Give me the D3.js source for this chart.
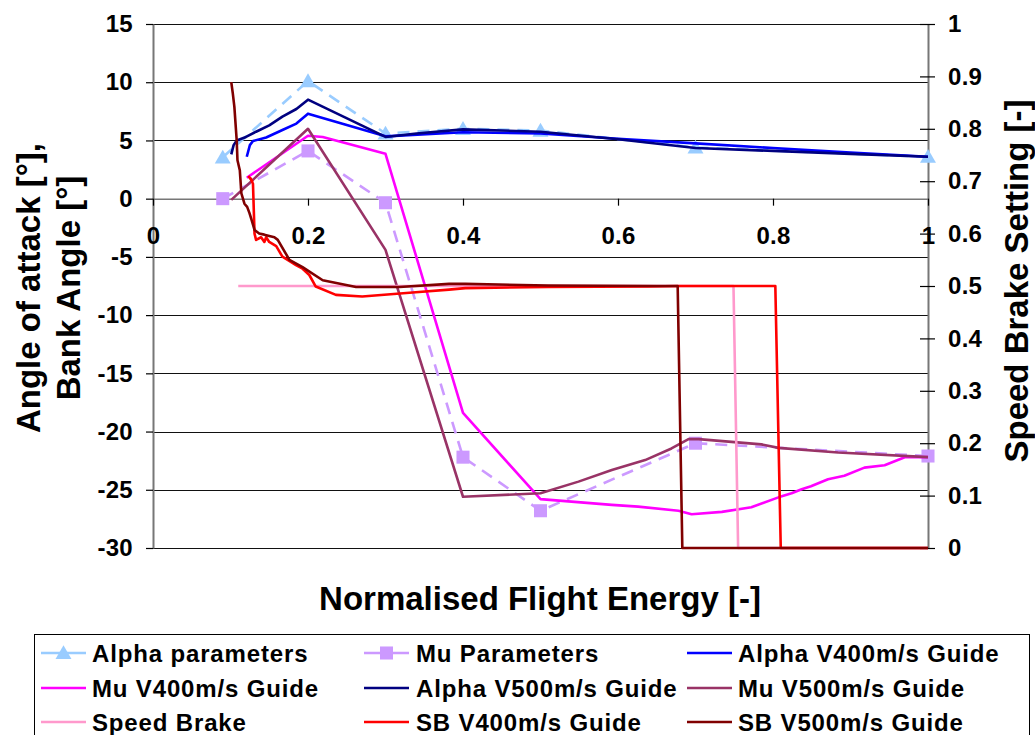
<!DOCTYPE html>
<html>
<head>
<meta charset="utf-8">
<script src="https://cdn.jsdelivr.net/npm/d3@7"></script>
<style>
  body { margin: 0; background: #fff; }
  svg { display: block; font-family: "Liberation Sans", Arial, sans-serif; font-weight: bold; }
</style>
</head>
<body>
<svg id="chart" width="1035" height="735"></svg>
<script>
// ---- Data -------------------------------------------------------------
const xTicks = [0, 0.2, 0.4, 0.6, 0.8, 1];
const leftTicks = [15, 10, 5, 0, -5, -10, -15, -20, -25, -30];
const rightTicks = [0, 0.1, 0.2, 0.3, 0.4, 0.5, 0.6, 0.7, 0.8, 0.9, 1];

// [normalised energy, angle in degrees]
const alphaParams = [[0.09, 3.55], [0.2, 10.1], [0.3, 5.6], [0.4, 6.0], [0.5, 5.85], [0.7, 4.4], [1.0, 3.6]];
const muParams = [[0.09, 0], [0.2, 4.1], [0.3, -0.35], [0.4, -22.2], [0.5, -26.8], [0.7, -21.0], [1.0, -22.1]];

const alphaV400 = [[0.121, 3.6], [0.125, 4.6], [0.129, 4.95], [0.146, 5.25], [0.167, 5.9], [0.185, 6.45],
  [0.2, 7.3], [0.3, 5.35], [0.4, 5.7], [0.5, 5.6], [0.6, 5.15], [0.7, 4.75], [0.8, 4.35], [0.9, 3.95], [1.0, 3.6]];
const muV400 = [[0.121, 1.8], [0.2, 5.4], [0.219, 5.3], [0.3, 3.85], [0.4, -18.4], [0.5, -25.8], [0.592, -26.3],
  [0.626, -26.45], [0.678, -26.8], [0.695, -27.1], [0.734, -26.9], [0.772, -26.5], [0.807, -25.65], [0.824, -25.3],
  [0.837, -24.95], [0.849, -24.7], [0.871, -24.1], [0.892, -23.8], [0.918, -23.1], [0.944, -22.9], [0.970, -22.2],
  [1.0, -22.2]];
const alphaV500 = [[0.101, 3.8], [0.104, 4.6], [0.108, 5.0], [0.12, 5.3], [0.133, 5.75], [0.15, 6.3], [0.167, 7.05],
  [0.185, 7.7], [0.2, 8.5], [0.3, 5.3], [0.34, 5.6], [0.4, 5.95], [0.5, 5.75], [0.6, 5.1], [0.7, 4.35],
  [0.8, 4.1], [0.9, 3.85], [1.0, 3.6]];
const muV500 = [[0.101, -0.1], [0.2, 6.0], [0.3, -4.4], [0.4, -25.6], [0.5, -25.3], [0.549, -24.3], [0.592, -23.3],
  [0.635, -22.45], [0.669, -21.45], [0.691, -20.65], [0.704, -20.65], [0.785, -21.1], [0.807, -21.4],
  [0.884, -21.8], [1.0, -22.2]];

// [normalised energy, speed brake setting]
const speedBrake = [[0.11, 0.5], [0.749, 0.5], [0.755, 0], [1.0, 0]];
const sbV400 = [[0.123, 0.71], [0.128, 0.70], [0.1255, 0.706], [0.129, 0.695], [0.131, 0.60], [0.133, 0.588],
  [0.1395, 0.593], [0.1437, 0.584], [0.146, 0.593], [0.150, 0.584], [0.159, 0.576], [0.167, 0.556],
  [0.1845, 0.54], [0.193, 0.533], [0.2017, 0.521], [0.210, 0.499], [0.236, 0.483], [0.270, 0.48],
  [0.339, 0.488], [0.382, 0.493], [0.403, 0.496], [0.51, 0.498], [0.639, 0.499], [0.68, 0.5],
  [0.803, 0.5], [0.81, 0], [1.0, 0]];
const sbV500 = [[0.101, 0.889], [0.103, 0.867], [0.105, 0.842], [0.108, 0.778], [0.109, 0.740], [0.112, 0.721],
  [0.114, 0.677], [0.118, 0.657], [0.1215, 0.651], [0.1245, 0.639], [0.127, 0.627], [0.131, 0.607],
  [0.137, 0.6], [0.1436, 0.598], [0.1566, 0.593], [0.161, 0.588], [0.176, 0.55], [0.193, 0.536],
  [0.219, 0.511], [0.262, 0.498], [0.318, 0.498], [0.382, 0.504], [0.403, 0.504], [0.51, 0.501],
  [0.65, 0.5], [0.677, 0.5], [0.683, 0], [1.0, 0]];

// ---- Series styling ---------------------------------------------------
const series = [
  { name: "Alpha parameters", data: alphaParams, axis: "L", color: "#99CCFF", dash: "12,8", marker: "triangle" },
  { name: "Mu Parameters", data: muParams, axis: "L", color: "#CC99FF", dash: "12,8", marker: "square" },
  { name: "Alpha V400m/s Guide", data: alphaV400, axis: "L", color: "#0000FF" },
  { name: "Mu V400m/s Guide", data: muV400, axis: "L", color: "#FF00FF" },
  { name: "Alpha V500m/s Guide", data: alphaV500, axis: "L", color: "#000080" },
  { name: "Mu V500m/s Guide", data: muV500, axis: "L", color: "#993366" },
  { name: "Speed Brake", data: speedBrake, axis: "R", color: "#FF99CC" },
  { name: "SB V400m/s Guide", data: sbV400, axis: "R", color: "#FF0000" },
  { name: "SB V500m/s Guide", data: sbV500, axis: "R", color: "#800000" }
];

// ---- Layout -----------------------------------------------------------
const svg = d3.select("#chart");
const plot = { left: 153, right: 928, top: 24, bottom: 548 };

const x = d3.scaleLinear().domain([0, 1]).range([plot.left, plot.right]);
const yL = d3.scaleLinear().domain([-30, 15]).range([plot.bottom, plot.top]);
const yR = d3.scaleLinear().domain([0, 1]).range([plot.bottom, plot.top]);
const fmt = d => String(d);   // plain hyphen for negatives

// horizontal gridlines
svg.append("g").selectAll("line").data(leftTicks).join("line")
  .attr("x1", plot.left).attr("x2", plot.right)
  .attr("y1", d => Math.round(yL(d)) + 0.5).attr("y2", d => Math.round(yL(d)) + 0.5)
  .attr("stroke", "#111").attr("stroke-width", 1);

// left axis
const gL = svg.append("g").attr("transform", `translate(${plot.left},0)`)
  .call(d3.axisLeft(yL).tickValues(leftTicks).tickFormat(fmt).tickSize(7).tickSizeOuter(0).tickPadding(13));
// right axis
const gR = svg.append("g").attr("transform", `translate(${plot.right},0)`)
  .call(d3.axisRight(yR).tickValues(rightTicks).tickFormat(fmt).tickSize(7).tickSizeOuter(0).tickPadding(13));
gR.selectAll(".tick line").attr("x1", -8);
// x axis at zero angle
const gX = svg.append("g").attr("transform", `translate(0,${yL(0)})`)
  .call(d3.axisBottom(x).tickValues(xTicks).tickFormat(fmt).tickSize(7).tickSizeOuter(0).tickPadding(21));

[gL, gR, gX].forEach(g => {
  g.select(".domain").attr("stroke", "#777").attr("stroke-width", 2);
  g.selectAll(".tick line").attr("stroke", "#000").attr("stroke-width", 1.2);
  g.selectAll(".tick text").attr("fill", "#000").style("font-size", "24px")
    .style("letter-spacing", "0.3px")
    .style("font-family", "'Liberation Sans', Arial, sans-serif").style("font-weight", "bold");
});
gX.select(".domain").attr("stroke-width", 1.5);

// ---- Series lines -----------------------------------------------------
const lines = svg.append("g");
series.forEach(s => {
  const ys = s.axis === "L" ? yL : yR;
  const line = d3.line().x(d => x(d[0])).y(d => ys(d[1]));
  lines.append("path").datum(s.data)
    .attr("d", line)
    .attr("fill", "none")
    .attr("stroke", s.color)
    .attr("stroke-width", 2.6)
    .attr("stroke-linejoin", "round")
    .attr("stroke-dasharray", s.dash || null);
  if (s.marker) {
    const sym = s.marker === "triangle"
      ? d3.symbol(d3.symbolTriangle, 110) : d3.symbol(d3.symbolSquare, 170);
    lines.append("g").selectAll("path").data(s.data).join("path")
      .attr("transform", d => `translate(${x(d[0])},${ys(d[1]) + (s.marker === "triangle" ? 1.5 : 0)})`)
      .attr("d", sym)
      .attr("fill", s.color);
  }
});

// ---- Axis titles ------------------------------------------------------
const titleFont = "33px";
svg.append("text").attr("x", 540).attr("y", 610).attr("text-anchor", "middle")
  .style("font-size", titleFont).text("Normalised Flight Energy [-]");
svg.append("text").attr("transform", "translate(40,288) rotate(-90)").attr("text-anchor", "middle")
  .style("font-size", titleFont).text("Angle of attack [°],");
svg.append("text").attr("transform", "translate(80,288) rotate(-90)").attr("text-anchor", "middle")
  .style("font-size", titleFont).text("Bank Angle [°]");
svg.append("text").attr("transform", "translate(1028,281) rotate(-90)").attr("text-anchor", "middle")
  .style("font-size", titleFont).text("Speed Brake Setting [-]");

// ---- Legend -----------------------------------------------------------
const legend = svg.append("g");
legend.append("rect").attr("x", 34.5).attr("y", 634.5).attr("width", 995).attr("height", 130)
  .attr("fill", "none").attr("stroke", "#000").attr("stroke-width", 1);
const colLine = [41, 364, 687];
const colText = [92, 416, 738];
const rowY = [653, 688, 722];
series.forEach((s, i) => {
  const c = i % 3, r = Math.floor(i / 3);
  const g = legend.append("g").attr("transform", `translate(0,${rowY[r]})`);
  g.append("line").attr("x1", colLine[c]).attr("x2", colLine[c] + 45)
    .attr("stroke", s.color).attr("stroke-width", 2.6);
  if (s.marker) {
    const sym = s.marker === "triangle"
      ? d3.symbol(d3.symbolTriangle, 110) : d3.symbol(d3.symbolSquare, 170);
    g.append("path").attr("transform", `translate(${colLine[c] + 22.5},${s.marker === "triangle" ? 1.5 : 0})`)
      .attr("d", sym).attr("fill", s.color);
  }
  g.append("text").attr("x", colText[c]).attr("y", 8.5)
    .style("font-size", "24px").style("letter-spacing", "0.85px").text(s.name);
});
</script>
</body>
</html>
